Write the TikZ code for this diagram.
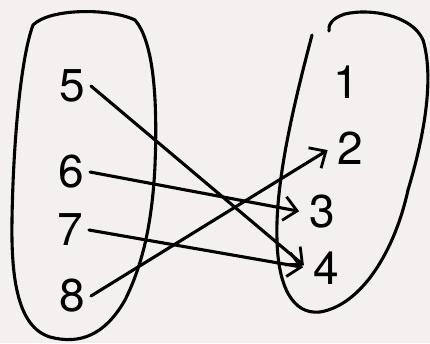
\documentclass[tikz,border=0pt]{standalone}
\usepackage{fontspec}
\setmainfont{TeX Gyre Heros}
\usetikzlibrary{arrows.meta}
\definecolor{paper}{RGB}{243,240,239}
\tikzset{
  pen/.style={line width=3.1pt, line cap=round, line join=round, black},
  num/.style={inner sep=6pt, font=\fontsize{46}{46}\selectfont},
  maparrow/.style={pen, -{Straight Barb[length=13pt, width=24pt, line width=2.8pt]}, shorten >=4pt}
}
\begin{document}
\begin{tikzpicture}[x=1pt,y=-1pt]
\fill[paper] (0,0) rectangle (430,343);
\useasboundingbox (0,0) rectangle (430,343);
% left set
\draw[pen] (33,25) .. controls (50,8) and (110,8) .. (135,20)
  .. controls (152,40) and (158,90) .. (155,165)
  .. controls (152,230) and (140,270) .. (125,300)
  .. controls (105,335) and (80,345) .. (50,337)
  .. controls (18,327) and (11,280) .. (12,220)
  .. controls (13,150) and (20,60) .. cycle;
% right set (open at top left)
\draw[pen] (312,35) .. controls (295,100) and (275,180) .. (277,240)
  .. controls (278,285) and (292,315) .. (320,312)
  .. controls (362,305) and (395,250) .. (408,190)
  .. controls (423,140) and (435,80) .. (423,40)
  .. controls (412,15) and (370,8) .. (345,14)
  .. controls (332,18) and (328,25) .. (329,31);
% elements
\node[num] (n5) at (72,86) {5};
\node[num] (n6) at (71,172) {6};
\node[num] (n7) at (70,230) {7};
\node[num] (n8) at (72,296) {8};
\node[num] (n1) at (346,82) {1};
\node[num] (n2) at (350,148) {2};
\node[num] (n3) at (322,212) {3};
\node[num] (n4) at (326,268) {4};
% mapping arrows
\draw[maparrow] (n5.east) -- (n4.west);
\draw[maparrow] (n6.east) -- (n3.west);
\draw[maparrow] (n7.east) -- (n4.west);
\draw[maparrow] (n8.east) -- (n2.west);
\end{tikzpicture}
\end{document}
